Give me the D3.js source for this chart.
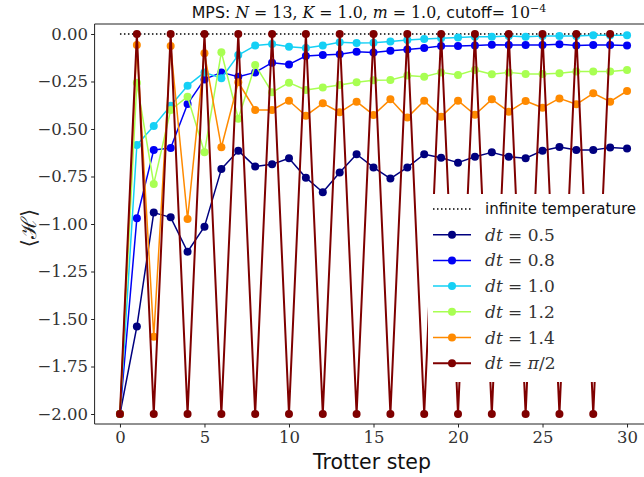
<!DOCTYPE html>
<html><head><meta charset="utf-8">
<script src="https://cdn.jsdelivr.net/npm/d3@7"></script>
<style>body{margin:0;background:#fff}svg{display:block}</style>
</head><body>
<script>
const steps = [0,1,2,3,4,5,6,7,8,9,10,11,12,13,14,15,16,17,18,19,20,21,22,23,24,25,26,27,28,29,30];
const stepsPi2 = [0,1,2,3,4,5,6,7,8,9,10,11,12,13,14,15,16,17,18,19,20,21,22,23,24,25,26,27,28,29];
const dt05 = [-2,-1.54,-0.94,-0.965,-1.146,-1.014,-0.711,-0.614,-0.698,-0.686,-0.654,-0.756,-0.833,-0.729,-0.633,-0.702,-0.761,-0.702,-0.633,-0.651,-0.677,-0.646,-0.623,-0.646,-0.654,-0.614,-0.595,-0.611,-0.611,-0.598,-0.602];
const dt08 = [-2,-0.97,-0.61,-0.60,-0.368,-0.239,-0.202,-0.225,-0.202,-0.151,-0.160,-0.116,-0.111,-0.107,-0.093,-0.098,-0.088,-0.081,-0.074,-0.063,-0.063,-0.060,-0.056,-0.058,-0.058,-0.058,-0.054,-0.060,-0.058,-0.058,-0.060];
const dt10 = [-2,-0.584,-0.484,-0.377,-0.272,-0.202,-0.233,-0.111,-0.061,-0.053,-0.067,-0.074,-0.061,-0.044,-0.047,-0.046,-0.040,-0.032,-0.026,-0.023,-0.018,-0.014,-0.014,-0.011,-0.014,-0.011,-0.011,-0.011,-0.007,-0.007,-0.007];
const dt12 = [-2,-0.256,-0.789,-0.400,-0.330,-0.623,-0.096,-0.446,-0.163,-0.307,-0.256,-0.295,-0.282,-0.268,-0.254,-0.244,-0.242,-0.219,-0.225,-0.202,-0.216,-0.189,-0.212,-0.202,-0.211,-0.211,-0.207,-0.198,-0.198,-0.198,-0.189];
const dt14 = [-2,-0.058,-1.593,-0.063,-0.974,-0.102,-0.596,-0.254,-0.400,-0.400,-0.351,-0.430,-0.365,-0.412,-0.356,-0.426,-0.344,-0.440,-0.351,-0.435,-0.351,-0.425,-0.344,-0.409,-0.353,-0.388,-0.339,-0.370,-0.312,-0.356,-0.300];
const dtPi2 = [-2,0,-2,0,-2,0,-2,0,-2,0,-2,0,-2,0,-2,0,-2,0,-2,0,-2,0,-2,0,-2,0,-2,0,-2,0];
const infTemp = 0;
const xTicks = [0,5,10,15,20,25,30];
const yTicks = [0,-0.25,-0.5,-0.75,-1,-1.25,-1.5,-1.75,-2];
const seriesLabels = [["0.5"],["0.8"],["1.0"],["1.2"],["1.4"],["π","/2"]];
const colors = ["#00007f","#0000f5","#15d0f5","#a8ff52","#ff8a00","#7f0000"];

const W=644,H=477;
const svg=d3.select("body").append("svg").attr("width",W).attr("height",H);
const x=d3.scaleLinear().domain([-1.5,31.5]).range([94.6,652.4]);
const y=d3.scaleLinear().domain([-2.0526,0.0526]).range([424,24]);
const serif="'DejaVu Serif', serif";
const sans="'DejaVu Sans', sans-serif";

const plot=svg.append("g");
plot.append("line").attr("x1",x(0)).attr("x2",x(30)).attr("y1",y(infTemp)).attr("y2",y(infTemp))
 .attr("stroke","#000").attr("stroke-width",1.5).attr("stroke-dasharray","1.5,2.5");

const series=[
 {xs:steps,ys:dt05},{xs:steps,ys:dt08},{xs:steps,ys:dt10},
 {xs:steps,ys:dt12},{xs:steps,ys:dt14},{xs:stepsPi2,ys:dtPi2}];
const line=d3.line().x(d=>x(d[0])).y(d=>y(d[1]));
series.forEach((s,i)=>{
  const pts=s.xs.map((v,j)=>[v,s.ys[j]]);
  const g=plot.append("g");
  g.append("path").attr("d",line(pts)).attr("fill","none").attr("stroke",colors[i])
   .attr("stroke-width",i===5?2:1.5).attr("stroke-linejoin","round");
  g.selectAll("circle").data(pts).enter().append("circle")
   .attr("cx",d=>x(d[0])).attr("cy",d=>y(d[1])).attr("r",4).attr("fill",colors[i]);
});

svg.append("line").attr("x1",94.6).attr("x2",W).attr("y1",24).attr("y2",24).attr("stroke","#222").attr("stroke-width",1);
svg.append("line").attr("x1",94.6).attr("x2",W).attr("y1",424).attr("y2",424).attr("stroke","#222").attr("stroke-width",1);
svg.append("line").attr("x1",94.6).attr("x2",94.6).attr("y1",24).attr("y2",424).attr("stroke","#222").attr("stroke-width",1);

const xa=svg.append("g").attr("transform","translate(0,424)")
 .call(d3.axisBottom(x).tickValues(xTicks).tickSize(3.5).tickPadding(4).tickFormat(d3.format("d")));
const ya=svg.append("g").attr("transform","translate(94.6,0)")
 .call(d3.axisLeft(y).tickValues(yTicks).tickSize(3.5).tickPadding(3).tickFormat(d=>(d<0?"\u2212":"")+d3.format(".2f")(Math.abs(d))));
[xa,ya].forEach(a=>{a.select(".domain").remove();a.selectAll("line").attr("stroke","#222");
 a.selectAll("text").attr("font-family",serif).attr("font-size",16.5).attr("fill","#333");});

svg.append("text").attr("x",372).attr("y",469).attr("text-anchor","middle").attr("font-family",sans)
 .attr("font-size",20.5).attr("fill","#111").text("Trotter step");
svg.append("text").attr("transform","translate(36,228) rotate(-90)").attr("text-anchor","middle")
 .attr("font-family",serif).attr("font-size",21).attr("fill","#222").text("⟨ℋ⟩");

const t=svg.append("text").attr("x",369).attr("y",18).attr("text-anchor","middle").attr("font-size",15.8).attr("fill","#111");
const parts=[["MPS: ",sans,null],["N",serif,"italic"],[" = 13, ",serif,null],["K",serif,"italic"],[" = 1.0, ",serif,null],["m",serif,"italic"],[" = 1.0, ",serif,null],["cutoff",sans,null],["= 10",serif,null]];
parts.forEach(p=>{const ts=t.append("tspan").attr("font-family",p[1]).text(p[0]);if(p[2])ts.attr("font-style",p[2]);});
t.append("tspan").attr("font-family",serif).attr("font-size",11).attr("dy",-6).text("\u22124");

const lg=svg.append("g");
lg.append("rect").attr("x",428).attr("y",194).attr("width",220).attr("height",188).attr("fill","#fff");
const ly0=209, ldy=25.7;
lg.append("line").attr("x1",433).attr("x2",471).attr("y1",ly0).attr("y2",ly0).attr("stroke","#000")
 .attr("stroke-width",1.5).attr("stroke-dasharray","1.5,2.5");
lg.append("text").attr("x",485).attr("y",ly0+5).attr("font-family",sans).attr("font-size",15).attr("fill","#111").text("infinite temperature");
seriesLabels.forEach((lab,i)=>{
  const yy=ly0+ldy*(i+1);
  lg.append("line").attr("x1",433).attr("x2",471).attr("y1",yy).attr("y2",yy).attr("stroke",colors[i]).attr("stroke-width",i===5?2:1.5);
  lg.append("circle").attr("cx",452).attr("cy",yy).attr("r",4).attr("fill",colors[i]);
  const tx=lg.append("text").attr("x",485).attr("y",yy+6).attr("font-family",serif).attr("font-size",17).attr("fill","#333");
  tx.append("tspan").attr("font-style","italic").text("dt");
  if(lab.length===1){tx.append("tspan").text(" = "+lab[0]);}
  else{tx.append("tspan").text(" = ");tx.append("tspan").attr("font-style","italic").text(lab[0]);tx.append("tspan").text(lab[1]);}
});
</script>
</body></html>
